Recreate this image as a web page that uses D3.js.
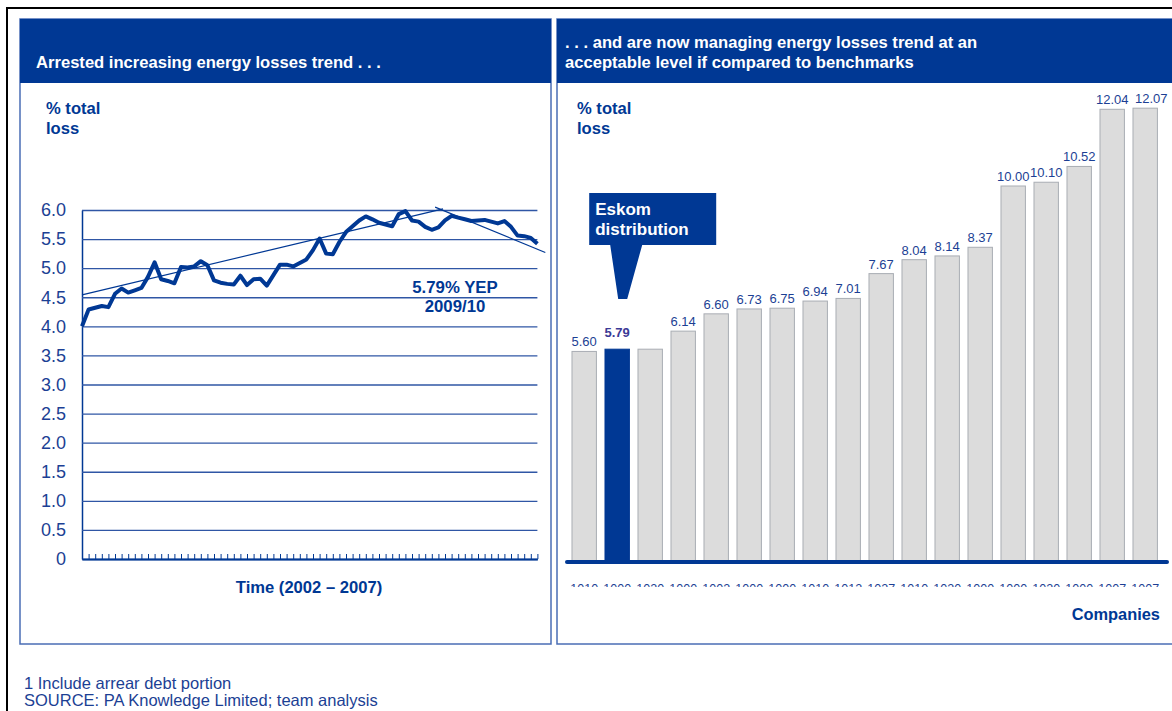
<!DOCTYPE html>
<html>
<head>
<meta charset="utf-8">
<script src="https://cdn.jsdelivr.net/npm/d3@7/dist/d3.min.js"></script>
<style>
  body { margin: 0; background: #fff; }
  svg { display: block; font-family: "Liberation Sans", Arial, sans-serif; }
</style>
</head>
<body>
<div id="chart"></div>
<script>
/*********************************************
** Energy losses: trend (left) + benchmark bars (right)
**********************************************/

// monthly % total loss, 2002 - 2007
var lossValues = [4.00, 4.29, 4.32, 4.35, 4.33, 4.56, 4.65, 4.58, 4.62, 4.66,
                  4.85, 5.10, 4.81, 4.78, 4.74, 5.02, 5.01, 5.03, 5.12, 5.05,
                  4.79, 4.75, 4.73, 4.72, 4.87, 4.71, 4.81, 4.82, 4.70, 4.88,
                  5.06, 5.06, 5.03, 5.09, 5.15, 5.31, 5.51, 5.25, 5.24, 5.45,
                  5.62, 5.72, 5.82, 5.89, 5.84, 5.78, 5.75, 5.72, 5.93, 5.98,
                  5.82, 5.80, 5.71, 5.66, 5.70, 5.82, 5.90, 5.87, 5.84, 5.81,
                  5.82, 5.83, 5.80, 5.77, 5.81, 5.71, 5.56, 5.55, 5.52, 5.42];

// hand drawn trend lines, [month index, value]
var trendUp = [[0, 4.54], [54.7, 6.02]];
var trendDown = [[53.5, 6.05], [70.2, 5.27]];

var lossTicks = [0, 0.5, 1.0, 1.5, 2.0, 2.5, 3.0, 3.5, 4.0, 4.5, 5.0, 5.5, 6.0];
var lossTickLabels = ["0", "0.5", "1.0", "1.5", "2.0", "2.5", "3.0", "3.5",
                      "4.0", "4.5", "5.0", "5.5", "6.0"];

// benchmark companies (names are cut off in the source)
var companies = ["1010", "1000", "1020", "1000", "1002", "1000", "1000", "1010", "1012",
                 "1027", "1010", "1020", "1000", "1000", "1020", "1000", "1007", "1007"];
// bar heights as drawn (Eskom bars sit a little below their 5.79 label value)
var companyLoss = [5.60, 5.66, 5.66, 6.14, 6.60, 6.73, 6.75, 6.94, 7.01,
                   7.67, 8.04, 8.14, 8.37, 10.00, 10.10, 10.52, 12.04, 12.07];
var companyLabels = ["5.60", "5.79", "", "6.14", "6.60", "6.73", "6.75", "6.94", "7.01",
                     "7.67", "8.04", "8.14", "8.37", "10.00", "10.10", "10.52", "12.04", "12.07"];
var eskomIndex = 1;

var NAVY = "#003894";
var TEXT_BLUE = "#1c3f94";
var GRID = "#2f56a5";
var FRAME = "#4a6db5";

var svg = d3.select("#chart").append("svg")
  .attr("width", 1172)
  .attr("height", 711);

/**
* drawPanel
* [Box with a blue title band on top.]
*
* @param {svg} svg [svg object]
* @param {double} x, y, w, h [box position]
* @param {string list} lines [title lines]
* @param {double} firstBase [baseline of first title line]
* @param {double} titleDx [title indent]
* @param {double} unitDx [indent of the "% total loss" label]
**/
function drawPanel(svg, x, y, w, h, lines, firstBase, titleDx, unitDx){
  svg.append("rect")
    .attr("x", x).attr("y", y)
    .attr("width", w).attr("height", h)
    .attr("fill", "none")
    .attr("stroke", FRAME)
    .attr("stroke-width", 1.5);

  svg.append("rect")
    .attr("x", x).attr("y", y)
    .attr("width", w).attr("height", 64)
    .attr("fill", NAVY);

  svg.selectAll(null)
    .data(lines)
    .enter()
    .append("text")
    .attr("x", x + titleDx)
    .attr("y", function(d, i){ return firstBase + i*20; })
    .attr("fill", "#fff")
    .attr("font-size", 16.6)
    .attr("font-weight", "bold")
    .text(function(d){ return d; });

  // "% total loss" unit label
  svg.selectAll(null)
    .data(["% total", "loss"])
    .enter()
    .append("text")
    .attr("x", x + unitDx)
    .attr("y", function(d, i){ return 114 + i*20; })
    .attr("fill", NAVY)
    .attr("font-size", 16.6)
    .attr("font-weight", "bold")
    .text(function(d){ return d; });
}

/**
* plotTrend
* [Left panel: monthly loss line with the two trend lines.]
**/
function plotTrend(svg){
  var x = d3.scaleLinear()
    .domain([0, lossValues.length - 1])
    .range([82, 537.4]);
  var y = d3.scaleLinear()
    .domain([0, 6])
    .range([559, 210]);

  // gridlines + labels
  var yAxis = d3.axisLeft(y)
    .tickValues(lossTicks)
    .tickFormat(function(d, i){ return lossTickLabels[i]; })
    .tickSize(-(x.range()[1] - x.range()[0]))
    .tickSizeOuter(0)
    .tickPadding(16);

  var gy = svg.append("g")
    .attr("transform", "translate(" + x.range()[0] + ",0)")
    .call(yAxis);
  gy.selectAll("line").attr("stroke", GRID).attr("stroke-width", 1.3);
  gy.select(".domain").attr("stroke", NAVY).attr("stroke-width", 1.5);
  gy.selectAll("text")
    .attr("fill", TEXT_BLUE)
    .attr("font-size", 18)
    .attr("font-family", "Liberation Sans, Arial, sans-serif");

  // month ticks along the bottom
  var xAxis = d3.axisBottom(x)
    .tickValues(d3.range(lossValues.length))
    .tickFormat("")
    .tickSize(-5)
    .tickSizeOuter(0);

  var gx = svg.append("g")
    .attr("transform", "translate(0," + y(0) + ")")
    .call(xAxis);
  gx.selectAll("line").attr("stroke", NAVY).attr("stroke-width", 1);
  gx.select(".domain").attr("stroke", NAVY).attr("stroke-width", 2);

  var line = d3.line()
    .x(function(d){ return x(d[0]); })
    .y(function(d){ return y(d[1]); });

  [trendUp, trendDown].forEach(function(t){
    svg.append("path")
      .attr("d", line(t))
      .attr("fill", "none")
      .attr("stroke", NAVY)
      .attr("stroke-width", 1.2);
  });

  svg.append("path")
    .attr("d", line(lossValues.map(function(v, i){ return [i, v]; })))
    .attr("fill", "none")
    .attr("stroke", NAVY)
    .attr("stroke-width", 4)
    .attr("stroke-linejoin", "round");

  svg.selectAll(null)
    .data(["5.79% YEP", "2009/10"])
    .enter()
    .append("text")
    .attr("x", 455)
    .attr("y", function(d, i){ return 293 + i*19; })
    .attr("text-anchor", "middle")
    .attr("fill", NAVY)
    .attr("font-size", 16.8)
    .attr("font-weight", "bold")
    .text(function(d){ return d; });

  svg.append("text")
    .attr("x", 309)
    .attr("y", 593)
    .attr("text-anchor", "middle")
    .attr("fill", NAVY)
    .attr("font-size", 16.6)
    .attr("font-weight", "bold")
    .text("Time (2002 \u2013 2007)");
}

/**
* plotBenchmarks
* [Right panel: sorted company losses, Eskom highlighted.]
**/
function plotBenchmarks(svg){
  var x = d3.scaleBand()
    .domain(d3.range(companies.length))
    .range([567.7, 1161.7])
    .paddingInner(0.26)
    .paddingOuter(0.13);
  var y = d3.scaleLinear()
    .domain([0, 13])
    .range([562, 562 - 13*37.6]);
  var last = companies.length - 1;

  svg.selectAll(".bar")
    .data(companyLoss)
    .enter()
    .append("rect")
    .attr("class", "bar")
    .attr("x", function(d, i){ return x(i); })
    .attr("y", function(d){ return y(d); })
    .attr("width", x.bandwidth())
    .attr("height", function(d){ return y(0) - y(d); })
    .attr("fill", function(d, i){ return i === eskomIndex ? NAVY : "#dcdcdc"; })
    .attr("stroke", function(d, i){ return i === eskomIndex ? NAVY : "#a9adb4"; })
    .attr("stroke-width", 1);

  // last label is nudged right so it does not run into its neighbour
  svg.selectAll(".barLabel")
    .data(companyLoss)
    .enter()
    .append("text")
    .attr("class", "barLabel")
    .attr("x", function(d, i){ return x(i) + x.bandwidth()/2 + (i === last ? 6 : 0); })
    .attr("y", function(d, i){ return y(d) - (i === eskomIndex ? 12 : 5); })
    .attr("text-anchor", "middle")
    .attr("font-size", 13)
    .attr("font-weight", function(d, i){ return i === eskomIndex ? "bold" : "normal"; })
    .attr("fill", function(d, i){ return i === eskomIndex ? "#3b3a96" : TEXT_BLUE; })
    .text(function(d, i){ return companyLabels[i]; });

  svg.append("line")
    .attr("x1", 567).attr("x2", 1167)
    .attr("y1", y(0)).attr("y2", y(0))
    .attr("stroke", NAVY)
    .attr("stroke-width", 4)
    .attr("stroke-linecap", "round");

  // company names are cut off in the source; only their tops show
  svg.append("clipPath").attr("id", "nameClip")
    .append("rect")
    .attr("x", 560).attr("y", 583.5)
    .attr("width", 612).attr("height", 3.5);

  svg.append("g")
    .attr("clip-path", "url(#nameClip)")
    .selectAll("text")
    .data(companies)
    .enter()
    .append("text")
    .attr("x", function(d, i){ return x(i) + x.bandwidth()/2; })
    .attr("y", 592.5)
    .attr("text-anchor", "middle")
    .attr("font-size", 12.5)
    .attr("fill", TEXT_BLUE)
    .text(function(d){ return d; });

  svg.append("text")
    .attr("x", 1160)
    .attr("y", 620)
    .attr("text-anchor", "end")
    .attr("fill", NAVY)
    .attr("font-size", 16.4)
    .attr("font-weight", "bold")
    .text("Companies");

  // Eskom callout
  var cx = x(eskomIndex) + x.bandwidth()/2;
  var callout = d3.path();
  callout.moveTo(cx - 28, 193);
  callout.lineTo(cx + 99, 193);
  callout.lineTo(cx + 99, 245);
  callout.lineTo(cx + 25, 245);
  callout.lineTo(cx + 10, 299);
  callout.lineTo(cx + 1, 299);
  callout.lineTo(cx - 7, 245);
  callout.lineTo(cx - 28, 245);
  callout.closePath();

  svg.append("path")
    .attr("d", callout.toString())
    .attr("fill", NAVY);

  svg.selectAll(null)
    .data(["Eskom", "distribution"])
    .enter()
    .append("text")
    .attr("x", cx - 22)
    .attr("y", function(d, i){ return 215 + i*20; })
    .attr("fill", "#fff")
    .attr("font-size", 17)
    .attr("font-weight", "bold")
    .text(function(d){ return d; });
}

// outer frame
svg.append("path")
  .attr("d", "M7,711 L7,8 L1172,8")
  .attr("fill", "none")
  .attr("stroke", "#000")
  .attr("stroke-width", 2);

drawPanel(svg, 20, 19, 531, 625,
          ["Arrested increasing energy losses trend . . ."], 68, 16, 26);
drawPanel(svg, 557, 19, 620, 625,
          [". . . and are now managing energy losses trend at an",
           "acceptable level if compared to benchmarks"], 48, 8, 20);

plotTrend(svg);
plotBenchmarks(svg);

svg.selectAll(".foot")
  .data(["1 Include arrear debt portion",
         "SOURCE: PA Knowledge Limited; team analysis"])
  .enter()
  .append("text")
  .attr("class", "foot")
  .attr("x", 24)
  .attr("y", function(d, i){ return 689 + i*17; })
  .attr("fill", TEXT_BLUE)
  .attr("font-size", 16.5)
  .text(function(d){ return d; });
</script>
</body>
</html>
